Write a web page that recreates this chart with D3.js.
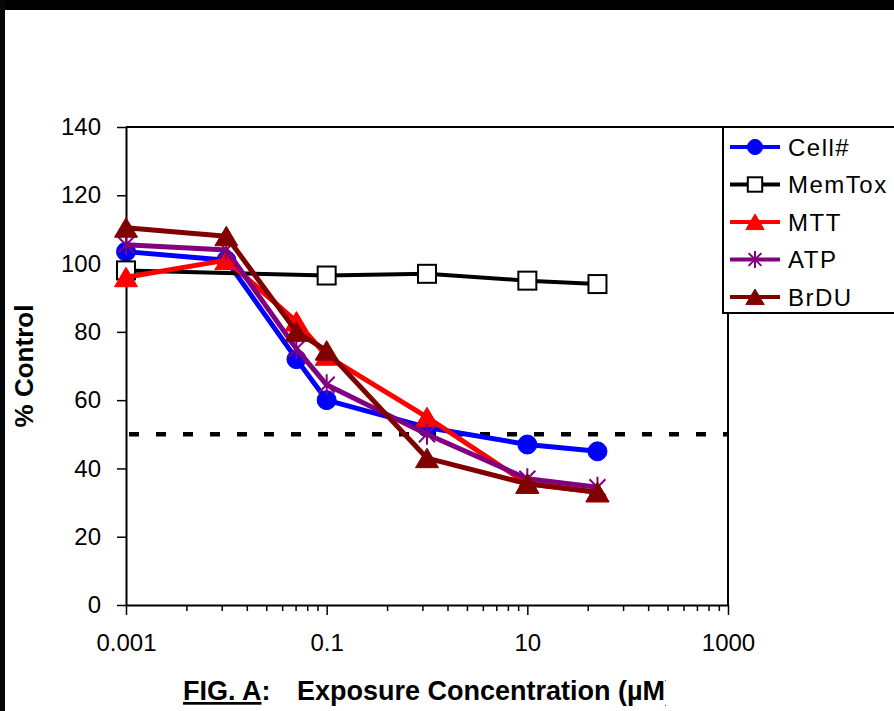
<!DOCTYPE html>
<html>
<head>
<meta charset="utf-8">
<script src="https://cdn.jsdelivr.net/npm/d3@7"></script>
<style>
  body { margin: 0; background: #fff; }
  svg { display: block; font-family: "Liberation Sans", Arial, sans-serif; }
</style>
</head>
<body>
<svg class="chart" width="894" height="711"></svg>
<script>
const concentrations = [0.001, 0.01, 0.05, 0.1, 1, 10, 50];
const cellCount = [103.5, 101, 72, 60, 52, 47, 45];
const memTox = [98, null, null, 96.5, 97, 95, 94];
const mtt = [96, 101, 83, 73, 55, 35.5, 33];
const atp = [105.5, 104, 75, 64.5, 50, 37, 34.5];
const brdu = [110.5, 108, 80, 74.5, 43, 35.5, 33];

const seriesNames = ["Cell#", "MemTox", "MTT", "ATP", "BrDU"];
const yTicks = [0, 20, 40, 60, 80, 100, 120, 140];
const xTicks = [0.001, 0.1, 10, 1000];
const xTickLabels = ["0.001", "0.1", "10", "1000"];
const cutoff = 50;

const series = [
  {name: seriesNames[0], values: cellCount, color: "#0000ff", marker: "circle"},
  {name: seriesNames[1], values: memTox, color: "#000000", marker: "square"},
  {name: seriesNames[2], values: mtt, color: "#ff0000", marker: "triangle"},
  {name: seriesNames[3], values: atp, color: "#800080", marker: "star"},
  {name: seriesNames[4], values: brdu, color: "#800000", marker: "triangle"}
];

const svg = d3.select('svg.chart');

// frame of the slide
svg.append('rect').attr('x', 0).attr('y', 0).attr('width', 894).attr('height', 10).style('fill', '#000');
svg.append('rect').attr('x', 0).attr('y', 0).attr('width', 5).attr('height', 711).style('fill', '#05070c');

const x = d3.scaleLog().domain([0.001, 1000]).range([126, 728]);
const y = d3.scaleLinear().domain([0, 140]).range([605, 127]);

// minor ticks: excel log axis with base 100
const minorTicks = [];
xTicks.slice(0, -1).forEach(m => {
  for (let k = 2; k <= 9; k++) minorTicks.push(m * k * k);
});

// plot frame (top + right)
svg.append('path')
  .attr('d', `M${x(0.001)},${y(140)}H${x(1000)}V${y(0)}`)
  .style('fill', 'none').style('stroke', '#000').style('stroke-width', 2);

const yAxis = svg.append('g')
  .attr('transform', `translate(${x(0.001)},0)`)
  .call(d3.axisLeft(y).tickValues(yTicks).tickSize(9).tickSizeOuter(0).tickPadding(16));

const xAxis = svg.append('g')
  .attr('transform', `translate(0,${y(0)})`)
  .call(d3.axisBottom(x).tickValues(xTicks).tickFormat((d, i) => xTickLabels[i]).tickSize(10).tickSizeOuter(0).tickPadding(19));

const xMinor = svg.append('g')
  .attr('transform', `translate(0,${y(0)})`)
  .call(d3.axisBottom(x).tickValues(minorTicks).tickFormat('').tickSize(6));
xMinor.select('.domain').remove();

[yAxis, xAxis, xMinor].forEach(g => {
  g.selectAll('path.domain').style('stroke', '#000').style('stroke-width', 2);
  g.selectAll('.tick line').style('stroke', '#000').style('stroke-width', 1.5);
  g.selectAll('.tick text')
    .style('font-family', '"Liberation Sans", Arial, sans-serif')
    .style('font-size', '24px')
    .style('fill', '#000');
});

// 50% line
svg.append('line')
  .attr('x1', x(0.001) + 3).attr('x2', x(1000))
  .attr('y1', y(cutoff)).attr('y2', y(cutoff))
  .style('stroke', '#000').style('stroke-width', 4.5)
  .style('stroke-dasharray', '10,17');

const line = d3.line()
  .x(d => x(d.c))
  .y(d => y(d.v));

function drawMarker(g, type, color, s) {
  if (type === 'circle') {
    g.append('circle').attr('r', 9.5 * s).style('fill', color).style('stroke', color).style('stroke-width', 1);
  } else if (type === 'square') {
    g.append('rect').attr('x', -9 * s).attr('y', -9 * s).attr('width', 18 * s).attr('height', 18 * s)
      .style('fill', '#fff').style('stroke', color).style('stroke-width', 2);
  } else if (type === 'triangle') {
    g.append('path').attr('d', `M0,${-10 * s}L${11.5 * s},${9.5 * s}H${-11.5 * s}Z`)
      .style('fill', color).style('stroke', color).style('stroke-width', 1);
  } else if (type === 'star') {
    const a = 8 * s, b = 10.5 * s;
    g.append('path').attr('d', `M${-a},${-a}L${a},${a}M${-a},${a}L${a},${-a}M0,${-b}V${b}`)
      .style('fill', 'none').style('stroke', color).style('stroke-width', 2);
  }
}

series.forEach(sr => {
  const pts = concentrations.map((c, i) => ({c: c, v: sr.values[i]})).filter(d => d.v !== null);
  const g = svg.append('g').attr('class', 'series');
  g.append('path')
    .datum(pts)
    .attr('d', line)
    .style('fill', 'none')
    .style('stroke', sr.color)
    .style('stroke-width', sr.marker === 'square' ? 4 : 5)
    .style('stroke-linejoin', 'round');
  g.selectAll('g.mk')
    .data(pts)
    .enter()
    .append('g')
    .attr('class', 'mk')
    .attr('transform', d => `translate(${x(d.c)},${y(d.v)})`)
    .each(function() { drawMarker(d3.select(this), sr.marker, sr.color, 1); });
});

// legend
const legend = svg.append('g').attr('transform', 'translate(723,127)');
legend.append('rect')
  .attr('width', 200).attr('height', 186)
  .style('fill', '#fff').style('stroke', '#000').style('stroke-width', 2);

const entry = legend.selectAll('g.entry')
  .data(series)
  .enter()
  .append('g')
  .attr('class', 'entry')
  .attr('transform', (d, i) => `translate(0,${20 + i * 37.5})`);

entry.append('line')
  .attr('x1', 7).attr('x2', 57)
  .style('stroke', d => d.color).style('stroke-width', 4);
entry.append('g')
  .attr('transform', 'translate(32,0)')
  .each(function(d) { drawMarker(d3.select(this), d.marker, d.color, 0.8); });
entry.append('text')
  .attr('x', 65)
  .attr('dy', '0.36em')
  .text(d => d.name)
  .style('font-size', '24px')
  .style('letter-spacing', '1.5px');

// axis titles
svg.append('text')
  .attr('transform', 'translate(33,366) rotate(-90)')
  .attr('text-anchor', 'middle')
  .text('% Control')
  .style('font-size', '26px')
  .style('font-weight', 'bold');

svg.append('clipPath').attr('id', 'titleClip')
  .append('rect').attr('x', 0).attr('y', 660).attr('width', 666).attr('height', 51);

const xTitle = svg.append('text')
  .attr('x', 183)
  .attr('y', 700)
  .attr('clip-path', 'url(#titleClip)')
  .style('font-size', '27px')
  .style('font-weight', 'bold');
xTitle.append('tspan').text('FIG. A').style('text-decoration', 'underline');
xTitle.append('tspan').text(':');
xTitle.append('tspan').attr('x', 297).text('Exposure Concentration (µM)');
</script>
</body>
</html>
